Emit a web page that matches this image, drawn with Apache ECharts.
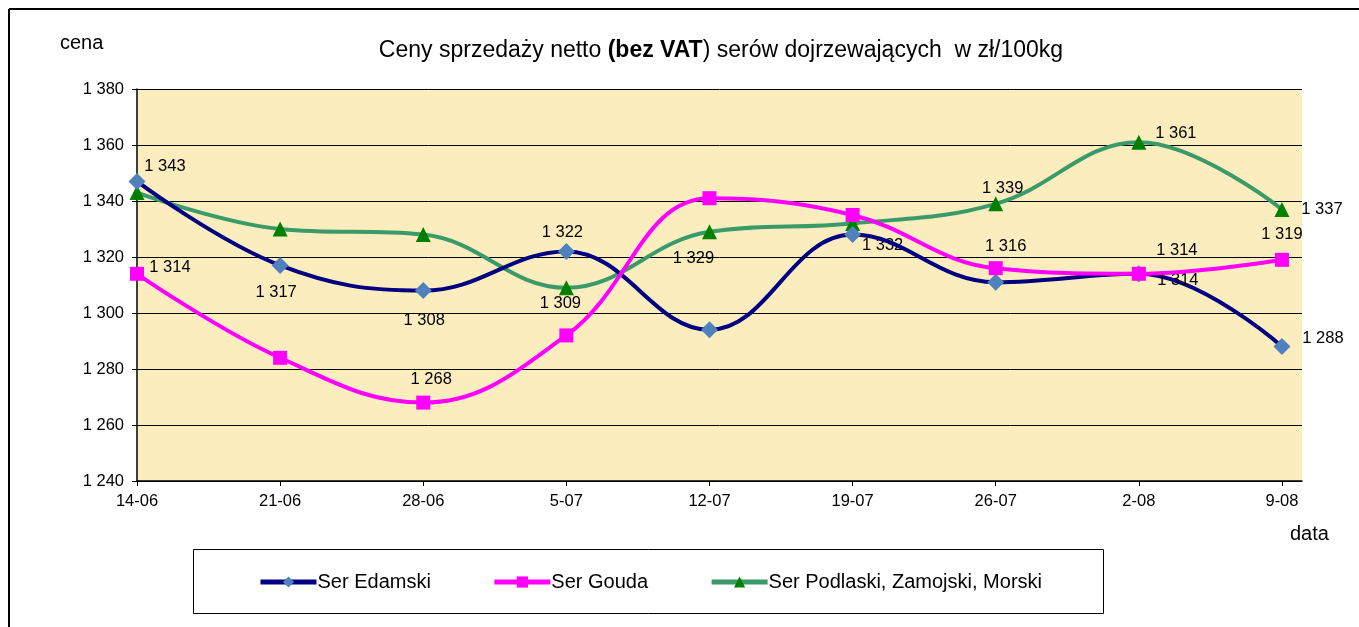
<!DOCTYPE html>
<html>
<head>
<meta charset="utf-8">
<script src="https://cdn.jsdelivr.net/npm/echarts@6/dist/echarts.min.js"></script>
<style>
* { margin: 0; padding: 0; }
html, body { width: 1359px; height: 627px; background: #fff; }
#main { width: 1359px; height: 627px; }
</style>
</head>
<body>
<div id="main"></div>
<script>
// dane z wykresu
var categories = ['14-06', '21-06', '28-06', '5-07', '12-07', '19-07', '26-07', '2-08', '9-08'];
var edamski = [1347, 1317, 1308, 1322, 1294, 1328, 1311, 1314, 1288];
var gouda = [1314, 1284, 1268, 1292, 1341, 1335, 1316, 1314, 1319];
var podlaski = [1343, 1330, 1328, 1309, 1329, 1332, 1339, 1361, 1337];
var seriesNames = ['Ser Edamski', 'Ser Gouda', 'Ser Podlaski, Zamojski, Morski'];
var yTicks = [1240, 1260, 1280, 1300, 1320, 1340, 1360, 1380];

// ktore punkty maja etykiety i gdzie
var edamskiLabels = {1: [-4, 27], 2: [1, 30], 3: [-4, -19], 7: [39, 7], 8: [41, -8]};
var goudaLabels = {0: [33, -6], 2: [8, -23], 6: [10, -22], 7: [38, -23], 8: [0, -25]};
var podlaskiLabels = {0: [28, -26], 3: [-6, 16], 4: [-16, 27], 5: [30, 22], 6: [7, -15], 7: [37, -9], 8: [40, 0]};

function fmt(v) {
  var s = String(Math.round(v));
  return s.length > 3 ? s.slice(0, s.length - 3) + ' ' + s.slice(-3) : s;
}

function toData(arr, labels) {
  return arr.map(function(v, i) {
    var item = { value: [i, v] };
    if (labels[i]) {
      item.label = { show: true, offset: labels[i] };
    } else {
      item.label = { show: false };
    }
    return item;
  });
}

var labelStyle = {
  position: 'inside',
  color: '#000',
  fontSize: 16.5,
  fontFamily: 'Liberation Sans',
  formatter: function(p) { return fmt(p.value[1]); }
};

var chart = echarts.init(document.getElementById('main'));
chart.setOption({
  animation: false,
  backgroundColor: '#fff',
  title: {
    text: 'Ceny sprzedaży netto {b|(bez VAT}) serów dojrzewających  w zł/100kg',
    left: 716,
    textAlign: 'center',
    top: 34,
    textStyle: {
      fontFamily: 'Liberation Sans',
      fontSize: 23,
      fontWeight: 'normal',
      color: '#000',
      rich: {
        b: { fontFamily: 'Liberation Sans', fontSize: 23, fontWeight: 'bold', color: '#000' }
      }
    }
  },
  graphic: [
    { type: 'line', shape: { x1: 9, y1: 9, x2: 1359, y2: 9 }, style: { stroke: '#000', lineWidth: 2 } },
    { type: 'line', shape: { x1: 9, y1: 9, x2: 9, y2: 627 }, style: { stroke: '#000', lineWidth: 2 } },
    { type: 'rect', shape: { x: 193.5, y: 549.5, width: 910, height: 64 }, style: { fill: 'none', stroke: '#000', lineWidth: 1 } },
    { type: 'text', left: 60, top: 33, style: { text: 'cena', font: '20px "Liberation Sans"', fill: '#000' } },
    { type: 'text', left: 1290, top: 524, style: { text: 'data', font: '20px "Liberation Sans"', fill: '#000' } }
  ],
  legend: {
    left: 258,
    top: 572,
    padding: 0,
    itemWidth: 56,
    itemHeight: 14,
    itemGap: 61,
    data: seriesNames,
    lineStyle: { width: 5 },
    textStyle: { fontFamily: 'Liberation Sans', fontSize: 20, color: '#000', padding: [0, 0, 0, -4] }
  },
  grid: {
    left: 137,
    right: 57,
    top: 89,
    bottom: 146,
    show: true,
    backgroundColor: '#fcedbf',
    borderWidth: 0
  },
  xAxis: {
    type: 'value',
    min: 0,
    max: 8.14,
    interval: 1,
    axisLine: { lineStyle: { color: '#000', width: 1.5 } },
    axisTick: { show: true, length: 5, lineStyle: { color: '#000' } },
    splitLine: { show: false },
    axisLabel: {
      color: '#000',
      fontFamily: 'Liberation Sans',
      fontSize: 16.5,
      margin: 12,
      showMaxLabel: false,
      formatter: function(v) { return Number.isInteger(v) ? (categories[v] || '') : ''; }
    }
  },
  yAxis: {
    type: 'value',
    min: yTicks[0],
    max: yTicks[yTicks.length - 1],
    interval: 20,
    axisLine: { show: true, lineStyle: { color: '#000', width: 1.5 } },
    axisTick: { show: true, length: 5, lineStyle: { color: '#000' } },
    splitLine: { show: true, lineStyle: { color: '#000', width: 1 } },
    axisLabel: {
      color: '#000',
      fontFamily: 'Liberation Sans',
      fontSize: 16.5,
      margin: 13,
      formatter: function(v) { return fmt(v); }
    }
  },
  series: [
    {
      name: seriesNames[0],
      type: 'line',
      smooth: 0.4,
      data: toData(edamski, edamskiLabels),
      symbol: 'diamond',
      symbolSize: 17,
      lineStyle: { color: '#000080', width: 4 },
      itemStyle: { color: '#4f81bd' },
      label: labelStyle,
      z: 3
    },
    {
      name: seriesNames[1],
      type: 'line',
      smooth: 0.4,
      data: toData(gouda, goudaLabels),
      symbol: 'rect',
      symbolSize: 14,
      lineStyle: { color: '#ff00ff', width: 4 },
      itemStyle: { color: '#ff00ff' },
      label: labelStyle,
      z: 4
    },
    {
      name: seriesNames[2],
      type: 'line',
      smooth: 0.4,
      data: toData(podlaski, podlaskiLabels),
      symbol: 'triangle',
      symbolSize: 15,
      lineStyle: { color: '#3a9a6a', width: 4 },
      itemStyle: { color: '#008000' },
      label: labelStyle,
      z: 2
    }
  ]
});
</script>
</body>
</html>
